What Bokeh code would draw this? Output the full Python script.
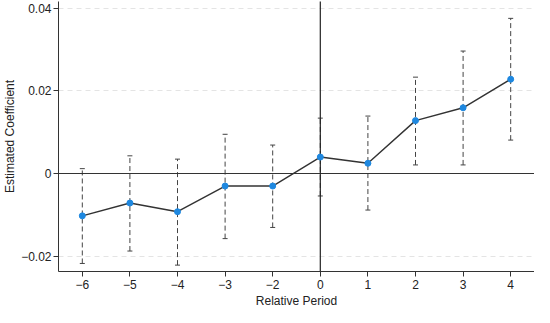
from bokeh.plotting import figure
from bokeh.models import ColumnDataSource, FactorRange, Range1d, Whisker, TeeHead, FixedTicker, Title
from bokeh.embed import file_html
from bokeh.resources import INLINE

periods = ["−6", "−5", "−4", "−3", "−2", "0", "1", "2", "3", "4"]
coef = [-0.0102, -0.0071, -0.0092, -0.0030, -0.0030, 0.0040, 0.0025, 0.0128, 0.0159, 0.0228]
upper = [0.0012, 0.0043, 0.0035, 0.0095, 0.0069, 0.0134, 0.0139, 0.0233, 0.0296, 0.0375]
lower = [-0.0217, -0.0187, -0.0221, -0.0157, -0.0130, -0.0054, -0.0088, 0.0021, 0.0021, 0.0081]
y_ticks = [-0.02, 0, 0.02, 0.04]
y_labels = {-0.02: "−0.02", 0: "0", 0.02: "0.02", 0.04: "0.04"}
x_title = "Relative Period"
y_title = "Estimated Coefficient"

src = ColumnDataSource(dict(x=periods, coef=coef, upper=upper, lower=lower))

FONT = "Liberation Sans"
p = figure(width=534, height=307, output_backend="svg", toolbar_location=None,
           x_range=FactorRange(factors=periods), y_range=Range1d(-0.02364, 0.04157),
           min_border_top=1, min_border_right=0, min_border_left=0, min_border_bottom=0)
p.outline_line_color = None
p.background_fill_color = "white"
p.border_fill_color = "white"

# grid
p.xgrid.grid_line_color = None
p.ygrid.ticker = FixedTicker(ticks=[-0.02, 0.02, 0.04])
p.ygrid.grid_line_color = "#e4e4e4"
p.ygrid.grid_line_dash = "5 4"
p.ygrid.grid_line_width = 1

# axes
p.yaxis.ticker = FixedTicker(ticks=y_ticks)
p.yaxis.major_label_overrides = y_labels
p.yaxis.axis_label = y_title
for ax in (p.xaxis[0], p.yaxis[0]):
    ax.axis_line_color = "#333333"
    ax.major_tick_line_color = "#333333"
    ax.major_tick_out = 5
    ax.major_tick_in = 0
    ax.minor_tick_line_color = None
    ax.major_label_text_font = FONT
    ax.major_label_text_font_size = "12px"
    ax.major_label_text_color = "#222222"
    ax.axis_label_text_font = FONT
    ax.axis_label_text_font_size = "12px"
    ax.axis_label_text_font_style = "normal"
    ax.axis_label_text_color = "#222222"
    ax.major_label_standoff = 2
    ax.axis_label_standoff = 1
p.xaxis.major_label_standoff = 3

p.add_layout(Title(text=x_title, align="center", text_font=FONT, text_font_size="12px",
                   text_font_style="normal", text_color="#222222", standoff=0, offset=-4), "below")

# reference lines
p.hspan(y=[0], line_color="#333333", line_width=1.2)
p.segment(x0=["0"], x1=["0"], y0=[-1], y1=[1], line_color="#222222", line_width=1.2)

# error bars
w = Whisker(base="x", upper="upper", lower="lower", source=src,
            line_color="#444444", line_dash="5 3", line_width=1,
            upper_head=TeeHead(size=5, line_color="#444444", line_width=1),
            lower_head=TeeHead(size=5, line_color="#444444", line_width=1))
p.add_layout(w)

# coefficients
p.line(x="x", y="coef", source=src, line_color="#333333", line_width=1.4)
p.scatter(x="x", y="coef", source=src, size=6, fill_color="#1e88e0", line_color="#1e88e0")

open("out.html", "w").write(file_html(p, INLINE))
